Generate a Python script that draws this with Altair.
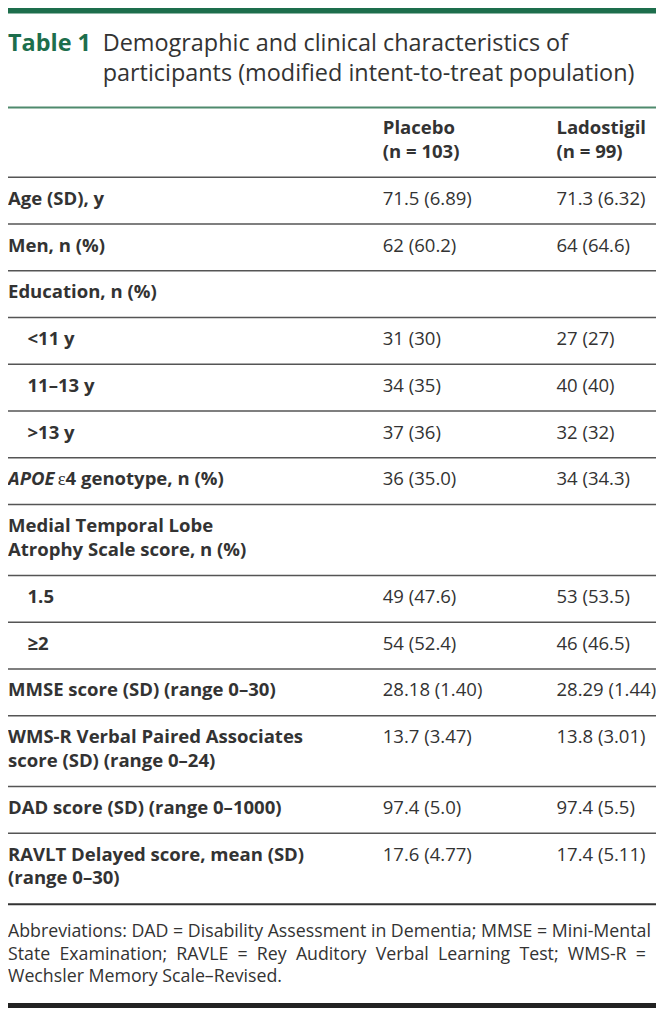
import altair as alt
import pandas as pd

# ---------------- data ----------------
title_tag = "Table 1"
title_lines = ["Demographic and clinical characteristics of",
               "participants (modified intent-to-treat population)"]
col_heads = [["Placebo", "(n = 103)"], ["Ladostigil", "(n = 99)"]]

labels = ["Age (SD), y", "Men, n (%)", "Education, n (%)", "<11 y", "11–13 y", ">13 y",
          "APOE ε4 genotype, n (%)",
          "Medial Temporal Lobe\nAtrophy Scale score, n (%)", "1.5", "≥2",
          "MMSE score (SD) (range 0–30)",
          "WMS-R Verbal Paired Associates\nscore (SD) (range 0–24)",
          "DAD score (SD) (range 0–1000)",
          "RAVLT Delayed score, mean (SD)\n(range 0–30)"]
indented = [False, False, False, True, True, True, False, False, True, True, False, False, False, False]
placebo = ["71.5 (6.89)", "62 (60.2)", "", "31 (30)", "34 (35)", "37 (36)", "36 (35.0)", "",
           "49 (47.6)", "54 (52.4)", "28.18 (1.40)", "13.7 (3.47)", "97.4 (5.0)", "17.6 (4.77)"]
ladostigil = ["71.3 (6.32)", "64 (64.6)", "", "27 (27)", "40 (40)", "32 (32)", "34 (34.3)", "",
              "53 (53.5)", "46 (46.5)", "28.29 (1.44)", "13.8 (3.01)", "97.4 (5.5)", "17.4 (5.11)"]
NB = "\u00a0\u00a0"
footnote = ["Abbreviations: DAD = Disability Assessment in Dementia; MMSE = Mini-Mental",
            NB.join(["State", "Examination;", "RAVLE", "=", "Rey", "Auditory", "Verbal",
                     "Learning", "Test;", "WMS-R", "="]),
            "Wechsler Memory Scale–Revised."]

# ---------------- layout ----------------
W_REF, H_REF = 664, 1016
W, H = 648, 1000
xs = alt.Scale(domain=[0, W_REF], range=[0, W])
ys = alt.Scale(domain=[0, H_REF], range=[0, H])
k = W / W_REF

GREEN = "#1d6e4c"
TEXT = "#333333"
RULE = "#555555"
COL_X = [0, 384, 562]

bold_rows, reg_rows, bi_rows, serif_rows = [], [], [], []

# header
for ci, head in enumerate(col_heads):
    for li, line in enumerate(head):
        bold_rows.append({"x": COL_X[ci + 1], "y": 128 + 24 * li, "t": line})

rules = [{"x0": 0, "x1": W_REF, "y": 101, "c": "#4f8a6d", "w": 2.0},
         {"x0": 0, "x1": W_REF, "y": 172, "c": RULE, "w": 1.5}]
top = 172
for i, lab in enumerate(labels):
    lines = lab.split("\n")
    h = 47.5 if len(lines) == 1 else 72
    base = top + 28
    x0 = 20 if indented[i] else 0
    if lab.startswith("APOE"):
        bi_rows.append({"x": 0, "y": base, "t": "APOE"})
        serif_rows.append({"x": 51, "y": base, "t": "ε"})
        bold_rows.append({"x": 59, "y": base, "t": "4 genotype, n (%)"})
    else:
        for li, line in enumerate(lines):
            bold_rows.append({"x": x0, "y": base + 24 * li, "t": line})
    if placebo[i]:
        reg_rows.append({"x": COL_X[1], "y": base, "t": placebo[i]})
    if ladostigil[i]:
        reg_rows.append({"x": COL_X[2], "y": base, "t": ladostigil[i]})
    top += h
    last = i == len(labels) - 1
    rules.append({"x0": 0, "x1": W_REF, "y": top, "c": "#333333" if last else RULE,
                  "w": 2.0 if last else 1.5})

foot_rows = [{"x": 0, "y": 944 + 23 * i, "t": t} for i, t in enumerate(footnote)]

bars = pd.DataFrame([
    {"x0": 0, "x1": W_REF, "y0": 0, "y1": 5.5, "c": GREEN},
    {"x0": 0, "x1": W_REF, "y0": 1011, "y1": 1016, "c": "#222222"},
])


def txt(rows, size, color=TEXT, weight="normal", style="normal", font="Open Sans"):
    return alt.Chart(pd.DataFrame(rows)).mark_text(
        align="left", baseline="alphabetic", font=font, fontSize=size,
        fontWeight=weight, fontStyle=style, color=color
    ).encode(
        x=alt.X("x:Q", scale=xs, axis=None),
        y=alt.Y("y:Q", scale=ys, axis=None),
        text="t:N",
    )


body = 19 * k
layers = [
    alt.Chart(bars).mark_rect().encode(
        x=alt.X("x0:Q", scale=xs, axis=None), x2="x1:Q",
        y=alt.Y("y0:Q", scale=ys, axis=None), y2="y1:Q",
        color=alt.Color("c:N", scale=None)),
    alt.Chart(pd.DataFrame(rules)).mark_rule().encode(
        x=alt.X("x0:Q", scale=xs, axis=None), x2="x1:Q",
        y=alt.Y("y:Q", scale=ys, axis=None),
        color=alt.Color("c:N", scale=None),
        strokeWidth=alt.StrokeWidth("w:Q", scale=None)),
    txt([{"x": 0, "y": 44, "t": title_tag}], 24 * k, color=GREEN, weight="bold"),
    txt([{"x": 97, "y": 44 + 30 * i, "t": t} for i, t in enumerate(title_lines)], 24 * k),
    txt(bold_rows, body, weight="bold"),
    txt(bi_rows, body, weight="bold", style="italic"),
    txt(serif_rows, body, font="Liberation Serif"),
    txt(reg_rows, body),
    txt(foot_rows, 18.2 * k),
]

chart = alt.layer(*layers).properties(
    width=W, height=H, padding=0,
    autosize=alt.AutoSizeParams(type="none"),
).configure_view(stroke=None)

chart.save("out.html", embed_options={"renderer": "svg", "actions": False})
